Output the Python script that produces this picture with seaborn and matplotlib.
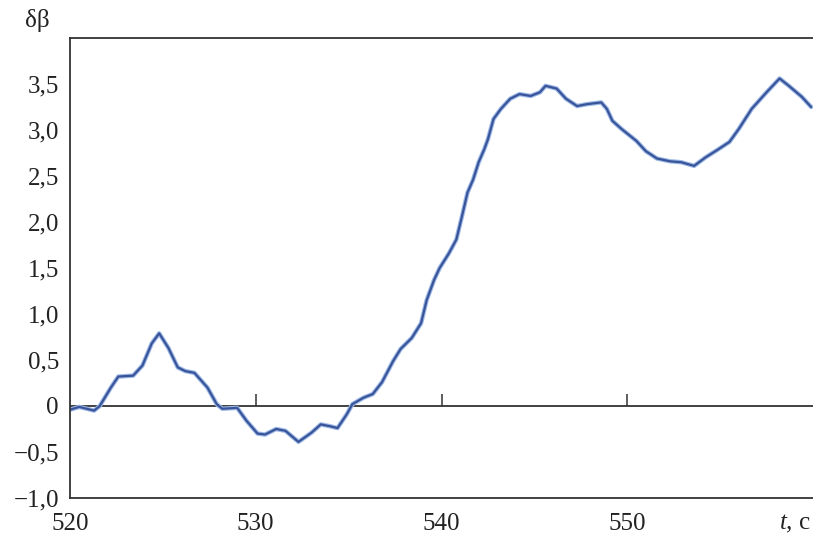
import numpy as np
import pandas as pd
import seaborn as sns
import matplotlib.pyplot as plt

#### Data ####
t_sec = [520.0, 520.5, 521.3, 521.6, 522.2, 522.6, 523.4, 523.9, 524.4, 524.8,
         525.3, 525.8, 526.2, 526.7, 527.4, 527.9, 528.2, 529.0, 529.5, 530.1,
         530.5, 531.1, 531.6, 532.3, 533.0, 533.5, 534.0, 534.4, 534.9, 535.2,
         535.8, 536.3, 536.8, 537.4, 537.8, 538.4, 538.9, 539.2, 539.6, 539.9,
         540.4, 540.8, 541.1, 541.4, 541.7, 542.0, 542.3, 542.5, 542.8, 543.2,
         543.7, 544.2, 544.8, 545.3, 545.6, 546.2, 546.7, 547.3, 547.8, 548.6,
         548.9, 549.2, 549.7, 550.5, 551.0, 551.6, 552.3, 552.9, 553.6, 554.2,
         554.9, 555.5, 556.0, 556.7, 557.5, 558.2, 558.7, 559.4, 559.9]
d_beta = [-0.04, -0.01, -0.05, 0.0, 0.20, 0.32, 0.33, 0.44, 0.68, 0.79,
          0.63, 0.42, 0.38, 0.36, 0.20, 0.02, -0.03, -0.02, -0.16, -0.30,
          -0.31, -0.25, -0.27, -0.39, -0.29, -0.20, -0.22, -0.24, -0.09, 0.02,
          0.09, 0.13, 0.26, 0.49, 0.62, 0.74, 0.90, 1.15, 1.37, 1.50,
          1.66, 1.81, 2.06, 2.32, 2.46, 2.65, 2.79, 2.90, 3.12, 3.23,
          3.34, 3.39, 3.37, 3.41, 3.48, 3.45, 3.34, 3.26, 3.28, 3.30,
          3.23, 3.10, 3.01, 2.88, 2.77, 2.69, 2.66, 2.65, 2.61, 2.70,
          2.79, 2.87, 3.01, 3.23, 3.41, 3.56, 3.48, 3.36, 3.25]

y_ticks = [-1.0, -0.5, 0, 0.5, 1.0, 1.5, 2.0, 2.5, 3.0, 3.5]
y_labels = ['\u22121,0', '\u22120,5', '0', '0,5', '1,0', '1,5', '2,0', '2,5', '3,0', '3,5']
x_ticks = [520, 530, 540, 550]
x_labels = ['520', '530', '540', '550']

df = pd.DataFrame({'t': t_sec, 'db': d_beta})

#### Plot ####
sns.set_style('white')
plt.rcParams['font.family'] = ['Liberation Serif', 'DejaVu Serif']
plt.rcParams['mathtext.fontset'] = 'custom'
plt.rcParams['mathtext.rm'] = 'Liberation Serif'
plt.rcParams['mathtext.it'] = 'Liberation Serif:italic'

fig = plt.figure(figsize=(8.13, 5.37), dpi=100)
ax = fig.add_axes([70 / 813, 1 - 498 / 537, 1 - 70 / 813, (498 - 38) / 537])

# light halo + dark core to mimic the printed line
sns.lineplot(data=df, x='t', y='db', ax=ax, color='#9bb8e6', linewidth=3.2)
sns.lineplot(data=df, x='t', y='db', ax=ax, color='#3a5499', linewidth=1.6)

ax.axhline(0, color='#333333', linewidth=1.3, zorder=1)
ax.vlines(x_ticks[1:], 0, 0.13, color='#333333', linewidth=1.1)

ax.set_xlim(520, 560)
ax.set_ylim(-1.0, 4.0)
ax.set_xticks(x_ticks)
ax.set_xticklabels(x_labels)
ax.set_yticks(y_ticks)
ax.set_yticklabels(y_labels)
ax.tick_params(axis='both', direction='in', length=6, width=1.1,
               colors='#222222', labelsize=18)
ax.tick_params(axis='x', pad=11)
ax.tick_params(axis='y', pad=8)
ax.set_xlabel('')
ax.set_ylabel('')

for side in ['left', 'bottom', 'top']:
    ax.spines[side].set_color('#333333')
    ax.spines[side].set_linewidth(1.3)
ax.spines['right'].set_visible(False)

fig.text(25 / 813, 1 - 20 / 537, '\u03b4\u03b2', fontsize=18, va='center', ha='left', color='#222222')
fig.text(811 / 813, 1 - 524 / 537, '$t$, c', fontsize=18, va='center', ha='right', color='#222222')

fig.savefig('out.png', dpi=100)
